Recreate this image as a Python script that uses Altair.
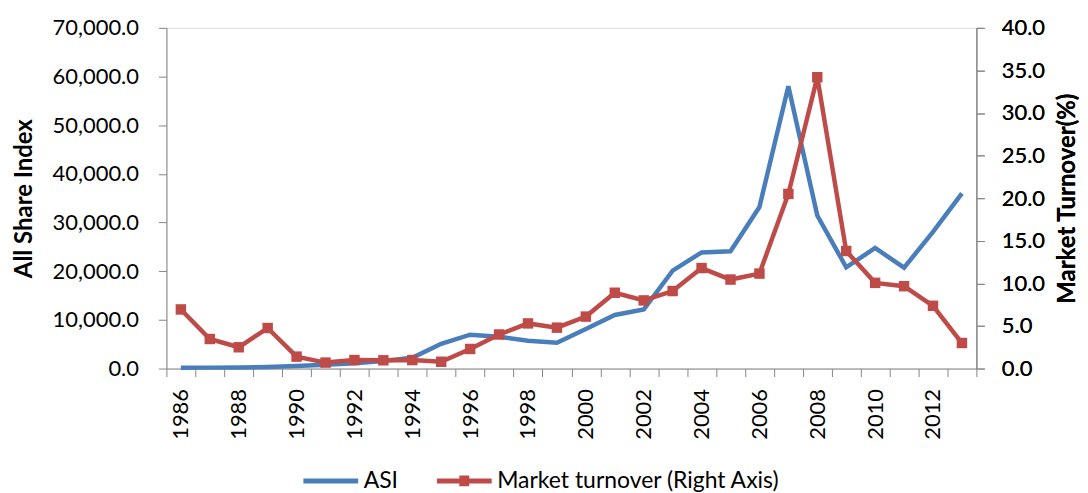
import altair as alt
import pandas as pd

years = list(range(1986, 2014))
asi = [164, 191, 234, 325, 514, 783, 1108, 1544, 2205, 5092, 6960, 6550, 5730, 5300,
       8110, 11000, 12140, 20130, 23850, 24100, 33190, 57990, 31450, 20800, 24770,
       20730, 28080, 36000]
turnover = [6.94, 3.47, 2.5, 4.76, 1.4, 0.7, 1.0, 0.97, 1.0, 0.8, 2.3, 4.0, 5.3, 4.8,
            6.1, 8.9, 8.0, 9.1, 11.8, 10.45, 11.15, 20.5, 34.2, 13.8, 10.06, 9.67,
            7.37, 3.0]
series_names = ["ASI", "Market turnover (Right Axis)"]
series_colors = ["#4A7EBB", "#BE4B48"]
left_ticks = list(range(0, 70001, 10000))
right_ticks = list(range(0, 41, 5))

FONT = "Lato"
AXIS_GRAY = "#868686"
TICK_FS = 22
TITLE_FS = 24

df = pd.DataFrame({"year": years, "asi": asi, "turnover": turnover})
legend_df = pd.DataFrame({"series": series_names})

bounds = [y - 0.5 for y in years] + [years[-1] + 0.5]
x_scale = alt.Scale(domain=[bounds[0], bounds[-1]], nice=False, zero=False)
label_expr = ("((datum.value + 0.5) % 2 == 0 && datum.value < " + str(years[-1]) +
              ") ? toString(datum.value + 0.5) : ''")
x_axis = alt.Axis(
    values=bounds, labelExpr=label_expr,
    labelAngle=270, labelOffset=14.5, labelOverlap=False, labelFont=FONT,
    labelFontSize=TICK_FS, labelColor="#000000", labelPadding=12,
    tickSize=8, tickColor=AXIS_GRAY, domainColor=AXIS_GRAY, grid=False, title=None,
)
x = alt.X("year:Q", scale=x_scale, axis=x_axis)

left_axis = alt.Axis(
    values=left_ticks, format=",.1f", title="All Share Index", grid=False,
    tickSize=8, tickColor=AXIS_GRAY, domainColor=AXIS_GRAY, labelPadding=20,
    labelFont=FONT, labelFontSize=TICK_FS, labelColor="#000000",
    titleFont=FONT, titleFontSize=TITLE_FS, titleFontWeight="bold", titleColor="#000000",
    titlePadding=16,
)
right_axis = alt.Axis(
    orient="right", values=right_ticks, format=".1f", title="Market Turnover(%)",
    grid=False, tickSize=8, tickColor=AXIS_GRAY, domainColor=AXIS_GRAY,
    labelPadding=17, labelFont=FONT, labelFontSize=TICK_FS, labelColor="#000000",
    titleFont=FONT, titleFontSize=TITLE_FS, titleFontWeight="bold", titleColor="#000000",
    titleAngle=270, titleBaseline="top", titlePadding=11,
)

base = alt.Chart(df)
asi_line = base.mark_line(color=series_colors[0], strokeWidth=4.5).encode(
    x=x, y=alt.Y("asi:Q", scale=alt.Scale(domain=[0, 70000], nice=False), axis=left_axis)
)
y_right = alt.Y("turnover:Q", scale=alt.Scale(domain=[0, 40], nice=False), axis=right_axis)
to_line = base.mark_line(color=series_colors[1], strokeWidth=4.5).encode(x=x, y=y_right)
to_pts = base.mark_point(shape="square", filled=True, color=series_colors[1], size=110,
                         opacity=1).encode(x=x, y=y_right)

blue_path = "M-1,-0.25H4.5V0.25H-1Z"
red_path = "M-1,-0.25H1.25V-0.55H2.25V-0.25H4.5V0.25H2.25V0.55H1.25V0.25H-1Z"


def make_legend():
    return alt.Legend(
        title=None, orient="none", direction="horizontal",
        legendX=136, legendY=443, symbolSize=400, labelOffset=39,
        columnPadding=37, labelFont=FONT, labelFontSize=23,
        labelColor="#000000", labelLimit=500, symbolStrokeWidth=0,
        padding=0, symbolOpacity=1)


legend_layer = alt.Chart(legend_df).mark_point(filled=True, opacity=1).encode(
    color=alt.Color("series:N", scale=alt.Scale(domain=series_names, range=series_colors),
                    legend=make_legend()),
    shape=alt.Shape("series:N", scale=alt.Scale(domain=series_names, range=[blue_path, red_path]),
                    legend=make_legend()),
).transform_filter("false")

chart = alt.layer(asi_line, to_line, to_pts, legend_layer).resolve_scale(
    y="independent"
).properties(
    width=813, height=342,
    padding={"left": 4, "top": 8, "right": 0, "bottom": 0},
).configure_view(stroke=None).configure(background="white")

chart.save("out.html", embed_options={"renderer": "svg", "actions": False})
